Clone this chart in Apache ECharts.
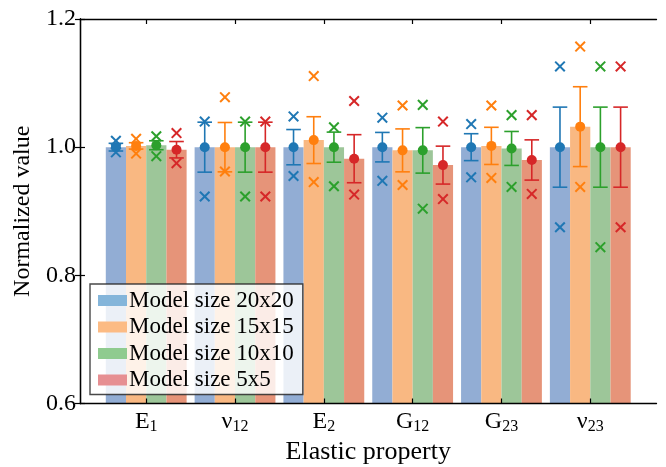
<!DOCTYPE html>
<html>
<head>
<meta charset="utf-8">
<script src="https://cdn.jsdelivr.net/npm/echarts@6/dist/echarts.min.js"></script>
<style>
html,body{margin:0;padding:0;background:#fff;}
#chart{width:666px;height:467px;}
</style>
</head>
<body>
<div id="chart"></div>
<script>
// ---- Data ----
const categories = ['E1', 'ν12', 'E2', 'G12', 'G23', 'ν23'];
const labelMain = ['E', 'ν', 'E', 'G', 'G', 'ν'];
const labelSub = ['1', '12', '2', '12', '23', '23'];
const seriesNames = ['Model size 20x20', 'Model size 15x15', 'Model size 10x10', 'Model size 5x5'];
const yTicks = [0.6, 0.8, 1.0, 1.2];

// mean values (bar heights / dots)
const mean20 = [1.000, 1.000, 1.000, 1.000, 1.000, 1.000];
const mean15 = [1.002, 1.000, 1.011, 0.995, 1.002, 1.032];
const mean10 = [1.003, 1.000, 1.000, 0.995, 0.998, 1.000];
const mean5  = [0.996, 1.000, 0.982, 0.972, 0.980, 1.000];

// standard deviations (error bar half-length)
const std20 = [0.006, 0.039, 0.0275, 0.023, 0.021, 0.0625];
const std15 = [0.005, 0.0385, 0.0365, 0.0335, 0.029, 0.0623];
const std10 = [0.007, 0.039, 0.0235, 0.0355, 0.0265, 0.0625];
const std5  = [0.0128, 0.039, 0.0375, 0.0296, 0.0314, 0.0625];

// maximum values (upper x markers)
const max20 = [1.010, 1.040, 1.048, 1.046, 1.036, 1.126];
const max15 = [1.013, 1.078, 1.111, 1.065, 1.065, 1.157];
const max10 = [1.017, 1.040, 1.031, 1.066, 1.050, 1.126];
const max5  = [1.022, 1.040, 1.072, 1.040, 1.050, 1.126];

// minimum values (lower x markers)
const min20 = [0.992, 0.923, 0.955, 0.9475, 0.953, 0.875];
const min15 = [0.990, 0.962, 0.9455, 0.941, 0.952, 0.938];
const min10 = [0.986, 0.923, 0.939, 0.904, 0.938, 0.844];
const min5  = [0.975, 0.923, 0.926, 0.919, 0.927, 0.875];

// ---- Styles ----
const means = [mean20, mean15, mean10, mean5];
const stds = [std20, std15, std10, std5];
const maxs = [max20, max15, max10, max5];
const mins = [min20, min15, min10, min5];
const barColors = ['#92ADD4', '#F9B882', '#9DC699', '#E69479'];
const markColors = ['#1f77b4', '#ff7f0e', '#2ca02c', '#d62728'];
const legendColors = ['#84B5DA', '#FCBB84', '#8FCB8F', '#E68F92'];
const FONT = 'Liberation Serif';
const CAT_GAP = 0.09;

const chart = echarts.init(document.getElementById('chart'), null, {renderer: 'canvas'});

function makeRender(si) {
  return function (params, api) {
    const cat = api.value(0);
    const m = api.value(1), sd = api.value(2), mx = api.value(3), mn = api.value(4);
    const band = api.size([1, 0])[0];
    const bw = band * (1 - CAT_GAP) / 4;
    const base = api.coord([cat, m]);
    const x = base[0] + (si - 1.5) * bw;
    const yM = base[1];
    const yT = api.coord([cat, m + sd])[1];
    const yB = api.coord([cat, m - sd])[1];
    const yMax = api.coord([cat, mx])[1];
    const yMin = api.coord([cat, mn])[1];
    const c = markColors[si];
    const lw = 1.6, cap = 7.3, xs = 4.8;
    const ls = {stroke: c, lineWidth: lw};
    const xls = {stroke: c, lineWidth: 2};
    const children = [
      {type: 'line', shape: {x1: x, y1: yT, x2: x, y2: yB}, style: ls},
      {type: 'line', shape: {x1: x - cap, y1: yT, x2: x + cap, y2: yT}, style: ls},
      {type: 'line', shape: {x1: x - cap, y1: yB, x2: x + cap, y2: yB}, style: ls},
      {type: 'circle', shape: {cx: x, cy: yM, r: 5}, style: {fill: c}},
    ];
    [yMax, yMin].forEach(function (yy) {
      children.push({type: 'line', shape: {x1: x - xs, y1: yy - xs, x2: x + xs, y2: yy + xs}, style: xls});
      children.push({type: 'line', shape: {x1: x - xs, y1: yy + xs, x2: x + xs, y2: yy - xs}, style: xls});
    });
    return {type: 'group', children: children};
  };
}

const series = [];
seriesNames.forEach(function (name, si) {
  series.push({
    name: name,
    type: 'bar',
    xAxisIndex: 2,
    yAxisIndex: 2,
    data: means[si],
    barGap: '0%',
    barCategoryGap: (CAT_GAP * 100) + '%',
    itemStyle: {color: barColors[si]},
    z: 2,
    emphasis: {disabled: true}
  });
});
seriesNames.forEach(function (name, si) {
  series.push({
    name: name,
    type: 'custom',
    xAxisIndex: 2,
    yAxisIndex: 2,
    renderItem: makeRender(si),
    data: categories.map(function (c, i) { return [i, means[si][i], stds[si][i], maxs[si][i], mins[si][i]]; }),
    encode: {x: 0, y: 1},
    z: 5,
    silent: true
  });
});

const axisLine = {show: true, lineStyle: {color: '#000', width: 1.3}};
const axisTick = {show: true, inside: true, length: 5, lineStyle: {color: '#000', width: 1.2}};

// outer frame: x from 80 to 656.5; categories sit with ~0.745 band margins
const OUT_L = 80, OUT_R = 9.5, TOP = 19, BOT = 63.5;
const MARGIN_EXTRA = 21.8;

const option = {
  animation: false,
  backgroundColor: '#fff',
  textStyle: {fontFamily: FONT},
  grid: [
    {left: OUT_L, right: OUT_R, top: TOP, bottom: BOT, containLabel: false, outerBoundsMode: 'none'},
    {left: OUT_L + MARGIN_EXTRA, right: OUT_R + MARGIN_EXTRA, top: TOP, bottom: BOT, containLabel: false, outerBoundsMode: 'none'}
  ],
  legend: {
    orient: 'vertical',
    left: 90,
    top: 284,
    padding: [5, 9, 3, 8],
    itemWidth: 29,
    itemHeight: 11,
    itemGap: 3.5,
    backgroundColor: 'rgba(255,255,255,0.82)',
    borderColor: 'rgba(40,40,40,0.85)',
    borderWidth: 1.4,
    borderRadius: 0,
    z: 20,
    textStyle: {fontFamily: FONT, fontSize: 23, color: '#000', padding: [0, 0, 0, -3]},
    data: seriesNames.map(function (n, i) {
      return {name: n, icon: 'rect', itemStyle: {color: legendColors[i], borderWidth: 0}};
    })
  },
  xAxis: [
    {
      type: 'value', gridIndex: 0, min: 0, max: 1, position: 'bottom', z: 10,
      axisLine: axisLine, axisTick: {show: false}, axisLabel: {show: false}, splitLine: {show: false}
    },
    {
      type: 'value', gridIndex: 0, min: 0, max: 1, position: 'top', z: 10,
      axisLine: axisLine, axisTick: {show: false}, axisLabel: {show: false}, splitLine: {show: false}
    },
    {
      type: 'category',
      gridIndex: 1,
      data: categories,
      position: 'bottom',
      z: 10,
      axisLine: {show: false},
      axisTick: Object.assign({alignWithLabel: true}, axisTick),
      splitLine: {show: false},
      name: 'Elastic property',
      nameLocation: 'middle',
      nameGap: 33,
      nameTextStyle: {fontFamily: FONT, fontSize: 26, color: '#000'},
      axisLabel: {
        margin: 5,
        color: '#000',
        formatter: function (v, i) { return '{m|' + labelMain[i] + '}{s|' + labelSub[i] + '}'; },
        rich: {
          m: {fontFamily: FONT, fontSize: 24, color: '#000', lineHeight: 26},
          s: {fontFamily: FONT, fontSize: 16, color: '#000', lineHeight: 16, verticalAlign: 'bottom'}
        }
      }
    },
    {
      type: 'category',
      gridIndex: 1,
      data: categories,
      position: 'top',
      z: 10,
      axisLine: {show: false},
      axisTick: Object.assign({alignWithLabel: true}, axisTick),
      axisLabel: {show: false},
      splitLine: {show: false}
    }
  ],
  yAxis: [
    {
      type: 'value',
      gridIndex: 0,
      min: yTicks[0],
      max: yTicks[yTicks.length - 1],
      interval: 0.2,
      position: 'left',
      z: 10,
      axisLine: axisLine,
      axisTick: axisTick,
      splitLine: {show: false},
      name: 'Normalized value',
      nameLocation: 'middle',
      nameGap: 45,
      nameTextStyle: {fontFamily: FONT, fontSize: 24, color: '#000'},
      axisLabel: {
        margin: 4,
        color: '#000',
        fontFamily: FONT,
        fontSize: 24,
        formatter: function (v) { return v.toFixed(1); }
      }
    },
    {
      type: 'value',
      gridIndex: 0,
      min: yTicks[0],
      max: yTicks[yTicks.length - 1],
      interval: 0.2,
      position: 'right',
      z: 10,
      axisLine: axisLine,
      axisTick: axisTick,
      splitLine: {show: false},
      axisLabel: {show: false}
    },
    {
      type: 'value',
      gridIndex: 1,
      min: yTicks[0],
      max: yTicks[yTicks.length - 1],
      interval: 0.2,
      show: false
    }
  ],
  series: series
};
chart.setOption(option);
</script>
</body>
</html>
